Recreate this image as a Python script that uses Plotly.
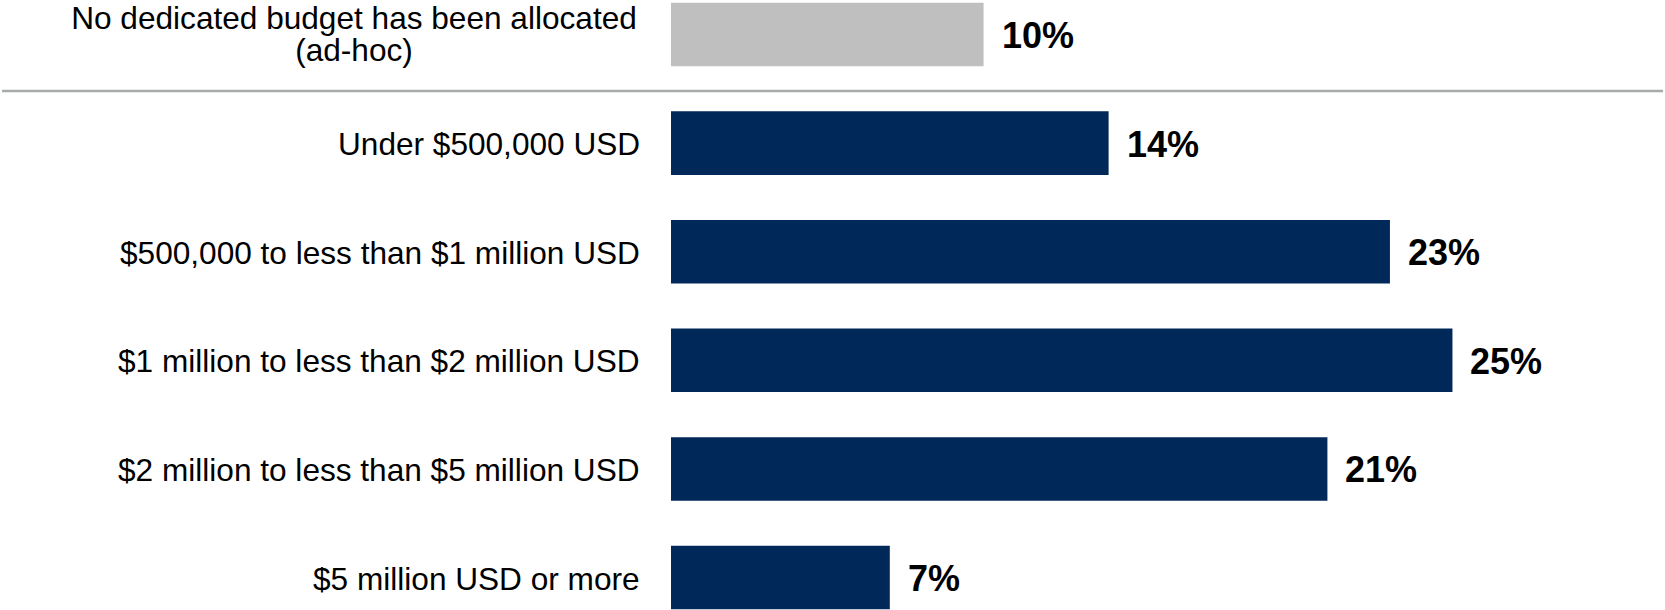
import plotly.graph_objects as go

# Survey categories (top to bottom) and their shares in percent
categories = [
    "No dedicated budget has been allocated<br>(ad-hoc)",
    "Under $500,000 USD",
    "$500,000 to less than $1 million USD",
    "$1 million to less than $2 million USD",
    "$2 million to less than $5 million USD",
    "$5 million USD or more",
]
values = [10, 14, 23, 25, 21, 7]
value_labels = [f"{v}%" for v in values]

NAVY = "#00295A"
GREY_BAR = "#BFBFBF"
colors = [GREY_BAR] + [NAVY] * (len(values) - 1)

FONT = "Arial, Liberation Sans, Arimo, sans-serif"

fig = go.Figure(
    go.Bar(
        y=categories,
        x=values,
        orientation="h",
        width=0.585,
        marker=dict(color=colors, line=dict(width=0)),
        hoverinfo="skip",
    )
)

annotations = []
# Category labels on the left, right-aligned against the bars
for cat in categories:
    lines = cat.split("<br>")
    if len(lines) == 1:
        annotations.append(dict(
            x=0, xref="paper", y=cat, yref="y", xanchor="right", yanchor="middle",
            xshift=-29, yshift=-1, text=cat, showarrow=False,
            font=dict(family=FONT, size=31.6, color="#000000"),
        ))
    else:
        # two tightly spaced lines, centred on each other
        shifts = [17.0, -15.0]
        for line, ys in zip(lines, shifts):
            annotations.append(dict(
                x=0, xref="paper", y=cat, yref="y", xanchor="right", yanchor="middle",
                xshift=-29, yshift=ys, text=line, showarrow=False, width=572, align="center",
                font=dict(family=FONT, size=31.6, color="#000000"),
            ))

# Bold value labels just past the bar ends
for cat, v, lab in zip(categories, values, value_labels):
    annotations.append(dict(
        x=v, xref="x", y=cat, yref="y", xanchor="left", yanchor="middle",
        xshift=16, yshift=-1, text=f"<b>{lab}</b>", showarrow=False,
        font=dict(family=FONT, size=36, color="#000000"),
    ))

fig.update_layout(
    width=1665,
    height=610,
    margin=dict(l=671, r=0, t=0, b=0),
    paper_bgcolor="#FFFFFF",
    plot_bgcolor="#FFFFFF",
    showlegend=False,
    annotations=annotations,
    xaxis=dict(range=[0, 31.8], visible=False, fixedrange=True),
    yaxis=dict(
        type="category",
        categoryorder="array",
        categoryarray=categories,
        range=[5.299, -0.318],
        showticklabels=False,
        showgrid=False,
        zeroline=False,
        showline=False,
        ticks="",
        fixedrange=True,
    ),
    shapes=[
        # divider separating the "no budget" answer from the budget brackets
        dict(
            type="line", xref="paper", yref="paper",
            x0=-0.673, x1=0.998, y0=0.8508, y1=0.8508,
            line=dict(color="#A6AAA9", width=2.5),
        )
    ],
)

fig.write_html("out.html", config={"displayModeBar": False})
